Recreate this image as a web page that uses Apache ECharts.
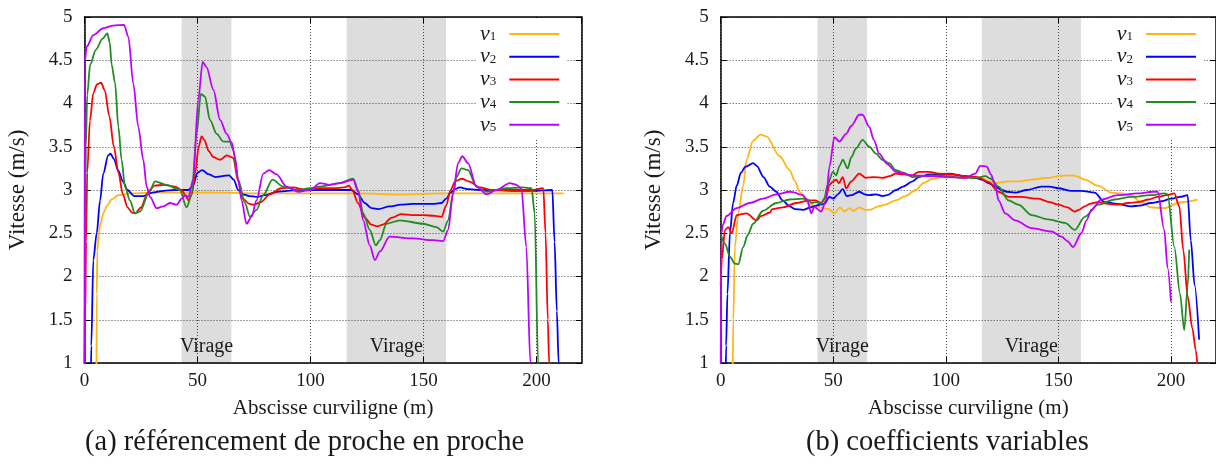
<!DOCTYPE html>
<html><head><meta charset="utf-8">
<script src="https://cdn.jsdelivr.net/npm/echarts@6.0.0/dist/echarts.min.js"></script>
<style>html,body{margin:0;padding:0;background:#fff}#c{width:1216px;height:470px}</style>
</head><body><div id="c"></div><script>
// ---------- data ----------
const seriesNames = ['v1','v2','v3','v4','v5'];
const colors = ['#ffb515','#0000ff','#ff0000','#228b22','#c000ff'];
const xTicks = [0, 50, 100, 150, 200];
const bands = [[43, 65], [116, 160]];
const bandLabel = 'Virage';
const captionA = '(a) référencement de proche en proche';
const captionB = '(b) coefficients variables';
const xName = 'Abscisse curviligne (m)';
const yName = 'Vitesse (m/s)';

// Panel (a)
const A1x = [5.3,5.4,5.7,6.3,7,8.5,10,12,15,20,30,45,60,80,100,120,140,160,180,200,212];
const A1y = [0.8,1.8,2.3,2.5,2.6,2.74,2.82,2.89,2.94,2.96,2.97,2.97,2.97,2.96,2.96,2.96,2.95,2.96,2.96,2.96,2.96];
const A2x = [2.8,3.0,3.9,5.4,6.9,8.3,10.5,11.5,13,15,17,19,22,26,30,35,40,44,46,48,50,52,55,58,61,64,66,68,70,73,76,80,85,90,95,100,105,110,115,118,121,124,127,130,135,140,145,150,155,158,160,162,164,166,170,175,180,190,200,207,208,209,209.8,210];
const A2y = [0.8,1.2,2.19,2.5,2.88,3.19,3.4,3.42,3.36,3.22,3.1,3.0,2.93,2.93,2.97,2.99,3.0,3.0,3.0,3.05,3.2,3.23,3.18,3.15,3.16,3.17,3.12,3.0,2.95,2.93,2.92,2.94,2.98,2.99,3.0,3.0,3.0,3.0,3.0,3.0,2.95,2.85,2.79,2.78,2.81,2.83,2.84,2.84,2.84,2.85,2.9,2.97,3.01,3.03,3.01,3.0,3.0,2.99,2.99,3.0,2.4,1.6,1.0,0.8];
const A3x = [0,0.3,0.7,1.2,2.4,3.9,5.5,7.3,9,11,13,15,17,19,21,22.5,25,28,31,35,40,43,45,46,47.5,49,50.5,51.8,53,55,57,60,63,65,65.8,68,70,73,75,78,82,87,92,98,104,110,115,117,118.5,121,124,127,129.5,132,136,140,145,150,155,158,160,162,164,167,170,175,180,190,198,203,204,205,205.6,206];
const A3y = [0.9,1.5,2.4,3.2,3.8,4.12,4.22,4.24,4.15,3.85,3.5,3.2,2.95,2.8,2.74,2.73,2.8,2.97,3.05,3.06,3.04,3.0,2.92,2.88,2.95,3.2,3.5,3.62,3.58,3.45,3.38,3.35,3.4,3.38,3.37,3.1,2.9,2.84,2.83,2.86,2.95,3.02,3.03,3.0,3.02,3.02,3.03,3.05,3.0,2.85,2.68,2.6,2.58,2.6,2.68,2.72,2.71,2.71,2.7,2.69,2.82,3.0,3.1,3.13,3.1,3.03,3.0,3.0,3.0,3.02,2.5,1.5,1.0,0.8];
const A4x = [0,0.2,0.6,1.2,2.5,5,8,10.1,11.2,12,13.5,15,16.4,17.9,20.1,22.3,24.5,29,31.2,36.3,42.2,45.2,47.4,49.6,51.5,53.3,55.5,58.5,61.4,64.3,65.8,68,71,73.2,76.1,79.1,83.2,87.9,93.8,100,104.1,113,118.9,121.1,123.3,126.2,128.9,130.7,133.6,139.5,149.8,155.7,158.7,160.9,163.1,164.6,166.8,169.7,173.4,177.9,186.7,194,197.8,199.2,200.7,201];
const A4y = [0.9,2.0,3.5,4.1,4.45,4.62,4.75,4.81,4.7,4.45,4.24,3.73,3.35,3.04,2.88,2.73,2.75,3.0,3.1,3.06,3.0,2.8,2.94,3.65,4.11,4.08,3.81,3.65,3.56,3.56,3.46,3.12,2.85,2.69,2.77,2.94,3.12,3.04,3.0,3.02,3.04,3.08,3.13,3.0,2.73,2.54,2.36,2.42,2.61,2.65,2.61,2.57,2.52,2.65,2.96,3.15,3.25,3.23,3.04,2.98,3.02,3.03,3.02,2.73,1.0,0.8];
const A5x = [0,0.1,1,3.9,8.3,12.7,17.5,19.4,21.6,23.8,26,27.5,29,31.9,34.8,37.8,40.8,43,44.4,46,48.1,50.3,52.3,54,57,60,62.9,65.1,66.6,68,69.5,71.7,73.9,76.1,79.1,81.7,85,89.4,94.6,100,104.1,108.5,113,118.9,121.1,123.3,126.2,128.5,130.7,135,145.4,154.2,158.7,160.9,163.1,165.3,167.2,169.7,173.4,177.9,182.3,188.2,191.1,193.3,195.5,197.3,197.6];
const A5y = [0.9,4.48,4.66,4.79,4.87,4.9,4.91,4.77,4.23,3.73,3.35,3.04,2.92,2.79,2.81,2.85,2.83,2.9,2.94,2.92,3.12,4.04,4.48,4.42,4.16,3.81,3.65,3.55,3.38,3.12,2.88,2.61,2.69,2.88,3.19,3.23,3.18,3.04,2.98,3.0,3.08,3.06,3.08,3.12,2.98,2.65,2.36,2.19,2.29,2.46,2.44,2.42,2.41,2.54,2.96,3.31,3.39,3.31,3.04,2.95,3.0,3.08,3.06,3.02,2.34,1.0,0.8];

// Panel (b)
const B1x = [5.3,5.6,6.3,7.8,10,11.5,14.4,17.7,20.3,26.2,30.6,33,35,39.5,45.4,48,50.5,53,55,57.1,59,61.5,64,66,70,73,77.8,82,86.7,90,94,101.3,108,116,119,122,127.8,133,138,145,150,155.7,158,161.7,167.6,173.4,178,182.3,186,191.1,197,204.4,211.8];
const B1y = [0.8,1.5,2.34,2.73,3.05,3.35,3.57,3.64,3.62,3.39,3.23,3.1,2.98,2.83,2.79,2.78,2.73,2.8,2.75,2.79,2.76,2.8,2.77,2.77,2.81,2.83,2.88,2.93,3.0,3.08,3.13,3.17,3.16,3.14,3.1,3.08,3.1,3.1,3.12,3.14,3.16,3.17,3.16,3.12,3.05,2.97,2.96,2.94,2.87,2.8,2.79,2.86,2.89];
const B2x = [2.2,2.4,3,4.1,5.5,7.1,9,11,14.4,16,19,21.8,24.7,27.5,30.6,33,36.5,40,42.4,46,48.3,50,52,54.2,56,58,61.5,64,66,69,71.8,74,77.9,81,85.2,88,92.5,96,101.3,108.7,113,116,119,122,124.9,127,130.8,136,142.5,146,150,155.8,160,166.1,170.5,176,182.3,186,191.1,196,200,204,207.4,208.8,210.5,212.5];
const B2y = [0.8,1.2,1.8,2.5,2.85,3.05,3.2,3.27,3.31,3.28,3.15,3.04,2.98,2.88,2.81,2.78,2.77,2.8,2.82,2.84,2.92,2.9,2.95,3.01,2.93,2.94,2.98,2.95,2.94,2.95,2.93,2.94,3.0,3.04,3.1,3.15,3.18,3.18,3.19,3.16,3.14,3.12,3.08,3.04,3.0,2.98,2.97,3.0,3.04,3.04,3.02,2.99,2.99,2.97,2.86,2.84,2.81,2.82,2.85,2.87,2.9,2.92,2.94,2.42,1.9,1.27];
const B3x = [0,0.5,1.9,3.4,4.9,7.1,11.5,15.9,18,21.8,23,27.7,33.6,39.5,42,44.6,46.8,48.3,50,51.3,52.5,54.2,55.7,58,61.5,64.5,68,71.8,75,77.8,81,85.1,88,92.5,96.9,103,108.7,114,119,123.4,127.8,133,141.1,146,150,154,157.3,159,161.7,164,167.6,172,176.4,181,185.3,190,194.1,198,201.5,203.7,205.5,207.4,209.5,211,212];
const B3y = [1.9,2.2,2.54,2.57,2.5,2.71,2.73,2.65,2.7,2.74,2.78,2.8,2.85,2.88,2.88,2.85,2.92,3.06,3.1,3.12,3.08,3.15,3.02,3.1,3.19,3.14,3.15,3.14,3.16,3.19,3.18,3.17,3.21,3.21,3.19,3.18,3.16,3.15,3.09,2.98,2.92,2.92,2.9,2.86,2.83,2.8,2.75,2.77,2.81,2.84,2.86,2.84,2.83,2.85,2.86,2.89,2.92,2.94,2.96,2.81,2.3,1.77,1.4,1.15,0.9];
const B4x = [0,1.9,4.1,6.3,7.8,10,12,14.4,18.8,24.7,30.6,36.5,38.5,40.2,42.4,44.6,46,47.5,49.8,51.3,52.8,54.2,56.4,58,60.1,63,66,69,71.8,74.8,77.8,81,85.1,90,94,100,108.7,113,117.5,120,123.4,127.8,132.2,138.1,145.5,152.9,157.3,161.7,167.6,175,182.3,191.1,197,198.5,201.5,204,205.9,207.4,208.1];
const B4y = [2.48,2.38,2.23,2.15,2.14,2.34,2.48,2.61,2.76,2.85,2.89,2.9,2.89,2.85,2.86,2.84,2.9,3.06,3.21,3.17,3.28,3.35,3.25,3.38,3.48,3.58,3.5,3.42,3.35,3.31,3.23,3.2,3.15,3.16,3.17,3.16,3.14,3.14,3.16,3.13,3.04,2.88,2.83,2.71,2.66,2.62,2.54,2.69,2.83,2.89,2.92,2.94,2.96,2.95,2.34,1.8,1.38,1.88,2.31];
const B5x = [0,0.3,1,2.6,7.1,12.9,18.8,24.7,30.6,33,35,36.5,38.5,40.2,41.7,43,44.6,46.8,48.3,50.5,52.7,55.7,58,61.5,63,66,68,70.4,74,77.8,85.1,94,100,108.7,113.1,115.3,118.2,120,122,123.4,126.4,130.8,138.1,147,151.4,154,156.5,160.2,162.5,164.6,169,176.4,185.3,191.9,194.1,197,198.5,200];
const B5y = [0.9,2.5,2.6,2.7,2.79,2.85,2.9,2.95,2.98,2.97,2.95,2.94,2.88,2.73,2.81,2.78,2.75,2.88,3.27,3.61,3.56,3.65,3.74,3.87,3.87,3.73,3.58,3.42,3.3,3.21,3.17,3.16,3.15,3.14,3.19,3.28,3.27,3.18,3.05,2.88,2.73,2.65,2.56,2.52,2.46,2.41,2.34,2.5,2.65,2.77,2.89,2.94,2.96,2.98,2.98,2.54,2.1,1.71];

const panelA = [[A1x,A1y],[A2x,A2y],[A3x,A3y],[A4x,A4y],[A5x,A5y]];
const panelB = [[B1x,B1y],[B2x,B2y],[B3x,B3y],[B4x,B4y],[B5x,B5y]];

// ---------- chart ----------
const FONT = 'Liberation Serif';
const TXT = '#1a1a1a';
const chart = echarts.init(document.getElementById('c'), null, {renderer: 'canvas'});

const grids = [
  {left: 84.5, top: 17, width: 497.2, height: 346},
  {left: 720.7, top: 17, width: 497.9, height: 346}
];

function bottomX(gi) {
  return {
    type: 'value', gridIndex: gi, min: 0, max: 220, interval: 50, position: 'bottom',
    name: xName, nameLocation: 'middle', nameGap: 35,
    nameTextStyle: {fontFamily: FONT, fontSize: 21, color: TXT},
    axisLine: {show: true, onZero: false, lineStyle: {color: '#000', width: 1.5}},
    axisTick: {show: true, inside: true, length: 6, lineStyle: {color: '#000', width: 1}},
    axisLabel: {show: true, showMaxLabel: false, margin: 9, fontFamily: FONT, fontSize: 19, color: TXT},
    splitLine: {show: true, lineStyle: {color: '#444', width: 1, type: [1, 2]}}
  };
}
function topX(gi) {
  return {
    type: 'value', gridIndex: gi, min: 0, max: 220, interval: 50, position: 'top',
    axisLine: {show: true, onZero: false, lineStyle: {color: '#000', width: 1.5}},
    axisTick: {show: true, inside: true, length: 6, lineStyle: {color: '#000', width: 1}},
    axisLabel: {show: false}, splitLine: {show: false}
  };
}
function leftY(gi) {
  return {
    type: 'value', gridIndex: gi, min: 1, max: 5, interval: 0.5, position: 'left',
    name: yName, nameLocation: 'middle', nameGap: 55, nameRotate: 90,
    nameTextStyle: {fontFamily: FONT, fontSize: 23, color: TXT},
    axisLine: {show: true, onZero: false, lineStyle: {color: '#000', width: 1.5}},
    axisTick: {show: true, inside: true, length: 6, lineStyle: {color: '#000', width: 1}},
    axisLabel: {show: true, margin: 12, fontFamily: FONT, fontSize: 19, color: TXT},
    splitLine: {show: true, lineStyle: {color: '#444', width: 1, type: [1, 2]}}
  };
}
function rightY(gi) {
  return {
    type: 'value', gridIndex: gi, min: 1, max: 5, interval: 0.5, position: 'right',
    axisLine: {show: true, onZero: false, lineStyle: {color: '#000', width: 1.5}},
    axisTick: {show: true, inside: true, length: 6, lineStyle: {color: '#000', width: 1}},
    axisLabel: {show: false}, splitLine: {show: false}
  };
}

function makeSeries(panel, gi) {
  return panel.map((xy, i) => {
    const s = {
      name: seriesNames[i], type: 'line', xAxisIndex: gi, yAxisIndex: gi,
      data: xy[0].map((x, k) => [x, xy[1][k]]),
      showSymbol: false, symbol: 'none', smooth: 0.3, smoothMonotone: 'x',
      lineStyle: {color: colors[i], width: 1.8}, itemStyle: {color: colors[i]},
      z: 3 + i, clip: true, animation: false
    };
    if (i === 0) {
      s.markArea = {
        silent: true, z: -1,
        itemStyle: {color: '#dddddd'},
        label: {show: true, position: 'insideBottom', distance: 6, fontFamily: FONT, fontSize: 20, color: TXT},
        data: bands.map(b => [{xAxis: b[0], name: bandLabel}, {xAxis: b[1]}])
      };
    }
    return s;
  });
}

function legend(left) {
  return {
    left: left, top: 18, orient: 'vertical', align: 'right',
    backgroundColor: '#fff', padding: [5, 8, 3, 4], itemGap: 0.7,
    itemWidth: 50, itemHeight: 2, icon: 'rect',
    data: seriesNames.map((n, i) => ({name: n, icon: 'rect', itemStyle: {color: colors[i]}})),
    formatter: n => '{v|v}{s|' + n.slice(1) + '}',
    textStyle: {
      color: TXT,
      rich: {
        v: {fontFamily: FONT, fontStyle: 'italic', fontSize: 22, lineHeight: 18, color: TXT},
        s: {fontFamily: FONT, fontSize: 13, lineHeight: 12, verticalAlign: 'bottom', padding: [0, 8, 0, 0], color: TXT}
      }
    }
  };
}

chart.setOption({
  animation: false,
  backgroundColor: '#fff',
  title: [
    {text: captionA, left: 85, top: 428, padding: 0, textStyle: {fontFamily: FONT, fontSize: 28.5, fontWeight: 'normal', color: TXT}},
    {text: captionB, left: 806, top: 428, padding: 0, textStyle: {fontFamily: FONT, fontSize: 28.5, fontWeight: 'normal', color: TXT}}
  ],
  grid: grids,
  xAxis: [bottomX(0), bottomX(1), topX(0), topX(1)],
  yAxis: [leftY(0), leftY(1), rightY(0), rightY(1)],
  legend: [legend(476), legend(1112.7)],
  series: makeSeries(panelA, 0).concat(makeSeries(panelB, 1))
});
</script></body></html>
